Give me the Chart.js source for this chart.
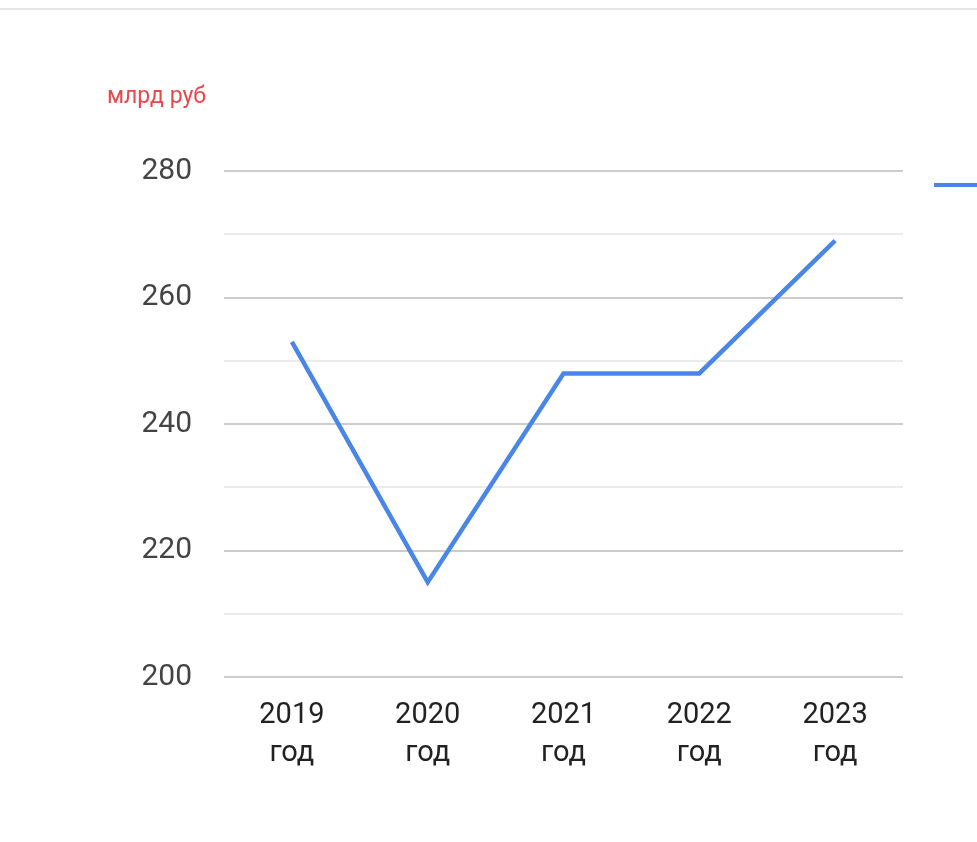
<!DOCTYPE html>
<html>
<head>
<meta charset="utf-8">
<script src="https://cdn.jsdelivr.net/npm/chart.js@4/dist/chart.umd.min.js"></script>
<style>
  html, body { margin: 0; padding: 0; background: #fff; }
  #wrap { width: 977px; height: 842px; }
</style>
</head>
<body>
<div id="wrap"><canvas id="myChart" width="977" height="842"></canvas></div>
<script>
var years = ['2019', '2020', '2021', '2022', '2023']
var values = [253, 215, 248, 248, 269]
var unitLabel = 'млрд руб'

var labels = years.map(y => [y, 'год'])

// unit caption, top rule and the cut-off legend swatch
var extras = {
  id: 'extras',
  afterDraw(chart) {
    var ctx = chart.ctx
    ctx.save()
    ctx.strokeStyle = '#e6e6e6'
    ctx.lineWidth = 2
    ctx.beginPath(); ctx.moveTo(0, 9); ctx.lineTo(977, 9); ctx.stroke()
    ctx.fillStyle = '#e8474b'
    ctx.font = '23px Roboto'
    ctx.textBaseline = 'middle'
    ctx.fillText(unitLabel, 107, 97)
    ctx.strokeStyle = chart.data.datasets[0].borderColor
    ctx.lineWidth = 4
    ctx.beginPath(); ctx.moveTo(934, 185); ctx.lineTo(977, 185); ctx.stroke()
    ctx.restore()
  }
}

new Chart(document.getElementById('myChart'), {
  type: 'line',
  data: {
    labels: labels,
    datasets: [{
      label: 'млрд руб',
      data: values,
      borderColor: '#4a86e8',
      borderWidth: 4.5,
      pointRadius: 0,
      tension: 0
    }]
  },
  options: {
    responsive: false,
    animation: false,
    layout: { padding: { top: 171, right: 74, left: 0, bottom: 0 } },
    plugins: { legend: { display: false }, tooltip: { enabled: false } },
    scales: {
      x: {
        offset: true,
        grid: { display: false, drawTicks: false, offset: true },
        border: { display: false },
        ticks: { color: '#222', font: { family: 'Roboto', size: 29, lineHeight: 1.3 }, padding: 20, maxRotation: 0 },
        afterFit(scale) { scale.height = 165 }
      },
      y: {
        min: 200, max: 280,
        border: { display: false },
        grid: {
          drawTicks: false,
          lineWidth: 2,
          color: c => (c.tick.value % 20 === 0 ? '#cccccc' : '#ebebeb')
        },
        ticks: {
          stepSize: 10,
          color: '#444',
          font: { family: 'Roboto', size: 30 },
          padding: 32,
          callback: v => (v % 20 === 0 ? v : '')
        },
        afterFit(scale) { scale.width = 224 }
      }
    }
  },
  plugins: [extras]
})
</script>
</body>
</html>
